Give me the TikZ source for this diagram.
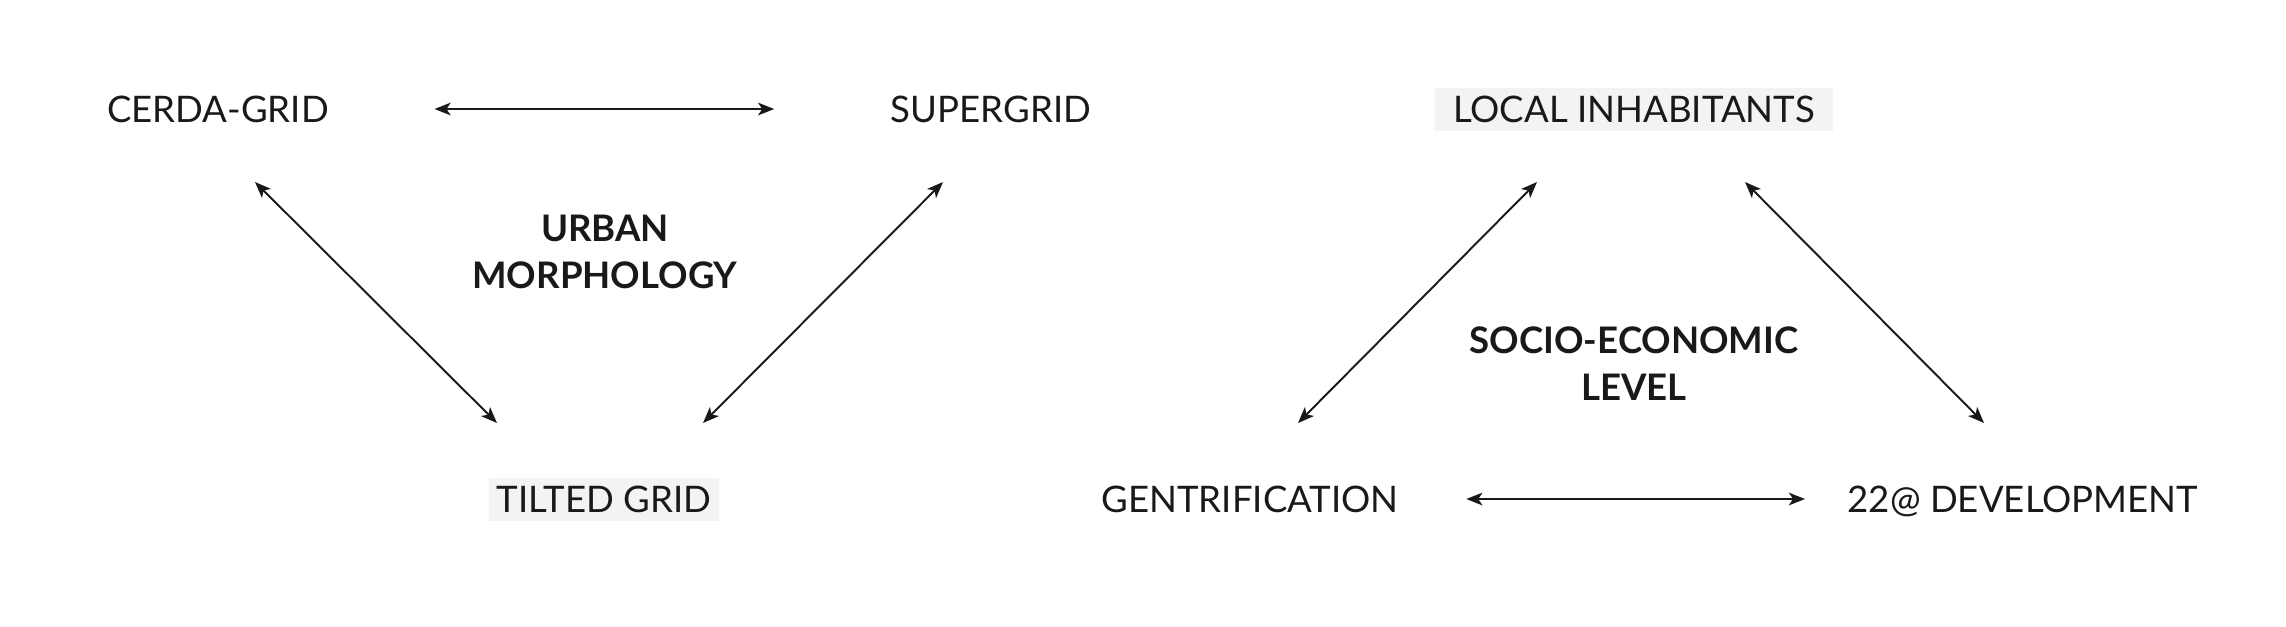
\documentclass[tikz,border=0pt]{standalone}
\usepackage{fontspec}
\setmainfont{Lato}
\usetikzlibrary{arrows.meta}
\definecolor{boxgray}{RGB}{244,242,243}
\definecolor{inkblack}{RGB}{25,25,25}
\begin{document}
\begin{tikzpicture}[
        x=0.01cm, y=-0.01cm,
        every node/.style={text=inkblack, font=\fontsize{10.4}{13}\selectfont, inner sep=0pt, text height=2.7mm, text depth=0pt},
        topic/.style={},
        marked/.style={fill=boxgray, inner xsep=0.08cm, inner ysep=0.08cm},
        theme/.style={font=\fontsize{10.4}{13.4}\selectfont\bfseries, align=center, text height=, text depth=},
        link/.style={draw=inkblack, line width=0.55pt, {Stealth[length=4.6pt,width=3.6pt,inset=1.2pt]}-{Stealth[length=4.6pt,width=3.6pt,inset=1.2pt]}},
    ]
    \useasboundingbox (0,0) rectangle (2286,626);

    % urban morphology
    \node[topic](cerda) at (218,109){CERDA-GRID};
    \node[topic](super) at (991,109){SUPERGRID};
    \node[topic,marked](tilted) at (604,499){TILTED GRID};
    \node[theme](morph) at (605,252){URBAN\\MORPHOLOGY};

    \draw[link] ([shift={(105,0)}]cerda.east) -- ([shift={(-116,0)}]super.west);
    \draw[link] ([shift={(37,73)}]cerda.center) -- ([shift={(-107,-76)}]tilted.center);
    \draw[link] ([shift={(-48,73)}]super.center) -- ([shift={(99,-76)}]tilted.center);

    % socio-economic level
    \node[topic,marked,inner xsep=0.18cm](local) at (1634,109){LOCAL INHABITANTS};
    \node[topic](gentri) at (1250,499){GENTRIFICATION};
    \node[topic](dev) at (2023,499){22@ DEVELOPMENT};
    \node[theme](socio) at (1634,364){SOCIO-ECONOMIC\\LEVEL};

    \draw[link] ([shift={(67,0)}]gentri.east) -- ([shift={(-42,0)}]dev.west);
    \draw[link] ([shift={(-97,73)}]local.center) -- ([shift={(48,-76)}]gentri.center);
    \draw[link] ([shift={(111,73)}]local.center) -- ([shift={(-39,-76)}]dev.center);

\end{tikzpicture}
\end{document}
